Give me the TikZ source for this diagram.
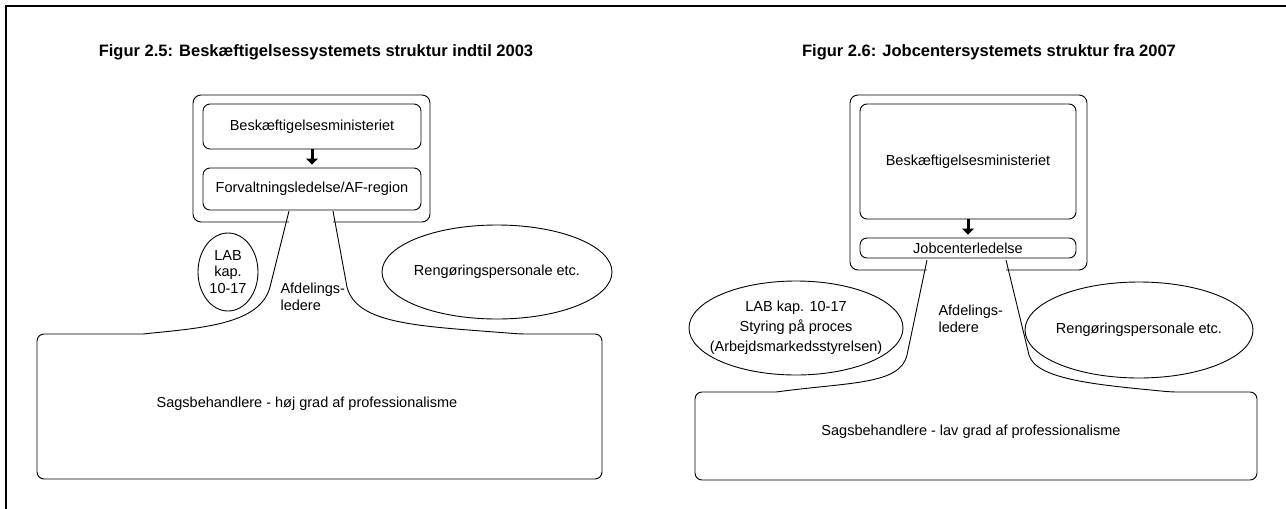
\documentclass[tikz,border=0pt]{standalone}
\usepackage{fontspec}
\setmainfont{Liberation Sans}
\usetikzlibrary{arrows.meta,shapes.geometric}
\tikzset{
	frame/.style={draw, line width=0.9pt, rounded corners=8pt},
	outline/.style={draw, line width=0.9pt},
	innerbox/.style={draw, line width=0.9pt, rounded corners=7pt, rectangle, inner sep=0pt, align=center},
	blob/.style={draw, line width=0.9pt, ellipse, inner sep=0pt},
	caption/.style={font=\fontsize{16.5}{20}\selectfont\bfseries},
	flow/.style={line width=3pt, shorten >=3pt, -{Triangle[width=12pt,length=6pt]}}
}

\begin{document}
\begin{tikzpicture}[x=1pt,y=-1pt,font=\fontsize{14.5}{16.5}\selectfont]
        \useasboundingbox (0,0) rectangle (1286,509);
        \draw[line width=2.5pt] (1286,6) -- (6,6) -- (6,509);
        % Figur 2.5
        \node[caption] (cap_L) at (316,52) {Figur 2.5: Beskæftigelsessystemets struktur indtil 2003};
        \draw[frame] (289,222) -- (193,222) -- (193,95) -- (430,95) -- (430,222) -- (333,222);
        \node[innerbox,minimum width=218pt,minimum height=45pt] (min_L) at (312,126.5) {Beskæftigelsesministeriet};
        \node[innerbox,minimum width=218pt,minimum height=42pt] (ledelse_L) at (312,189) {Forvaltningsledelse/AF-region};
        \draw[flow] (min_L) -- (ledelse_L);
        \coordinate (neck_l_L) at (289,211);
        \coordinate (bend_l_L) at (270,287);
        \coordinate (neck_r_L) at (333,211);
        \coordinate (bend_r_L) at (347,287);
        \draw[outline] (neck_l_L) -- (bend_l_L) .. controls (260,325) and (200,328) .. (143,334)
            [rounded corners=7pt] -- (37,334) -- (37,479) -- (602,479) -- (602,334) -- (520,334)
            [sharp corners] .. controls (420,326) and (357,325) .. (bend_r_L) -- (neck_r_L);
        \node[blob,minimum width=60pt,minimum height=78pt] (lab_L) at (228,272) {};
        \node[align=center] (lab_L_txt) at (lab_L) {LAB\\kap.\\10-17};
        \node[anchor=west,align=left] (afd_L) at (277,297) {Afdelings-\\ledere};
        \node[blob,minimum width=230pt,minimum height=94pt] (rengoring_L) at (497,272) {};
        \node (rengoring_L_txt) at (rengoring_L) {Rengøringspersonale etc.};
        \node (sag_L) at (307,404) {Sagsbehandlere - høj grad af professionalisme};
        % Figur 2.6
        \node[caption] (cap_R) at (989,52) {Figur 2.6: Jobcentersystemets struktur fra 2007};
        \draw[frame] (927,270) -- (850,270) -- (850,95) -- (1087,95) -- (1087,270) -- (1006,270);
        \node[innerbox,minimum width=216pt,minimum height=115pt] (min_R) at (968,161.5) {Beskæftigelsesministeriet};
        \node[innerbox,minimum width=216pt,minimum height=20pt] (ledelse_R) at (968,248) {Jobcenterledelse};
        \draw[flow] (min_R) -- (ledelse_R);
        \coordinate (neck_l_R) at (927,260);
        \coordinate (bend_l_R) at (907,355);
        \coordinate (neck_r_R) at (1006,260);
        \coordinate (bend_r_R) at (1029,355);
        \draw[outline] (neck_l_R) -- (bend_l_R) .. controls (900,385) and (850,382) .. (776,392)
            [rounded corners=7pt] -- (695,392) -- (695,480) -- (1257,480) -- (1257,392) -- (1171,392)
            [sharp corners] .. controls (1100,385) and (1036,380) .. (bend_r_R) -- (neck_r_R);
        \node[blob,minimum width=214pt,minimum height=94pt] (lab_R) at (796,328) {};
        \node[align=center,font=\fontsize{14.5}{20}\selectfont] (lab_R_txt) at (lab_R) {LAB kap. 10-17\\Styring på proces\\(Arbejdsmarkedsstyrelsen)};
        \node[anchor=west,align=left] (afd_R) at (935,319) {Afdelings-\\ledere};
        \node[blob,minimum width=228pt,minimum height=96pt] (rengoring_R) at (1139,330) {};
        \node (rengoring_R_txt) at (rengoring_R) {Rengøringspersonale etc.};
        \node (sag_R) at (971,432) {Sagsbehandlere - lav grad af professionalisme};
\end{tikzpicture}
\end{document}
